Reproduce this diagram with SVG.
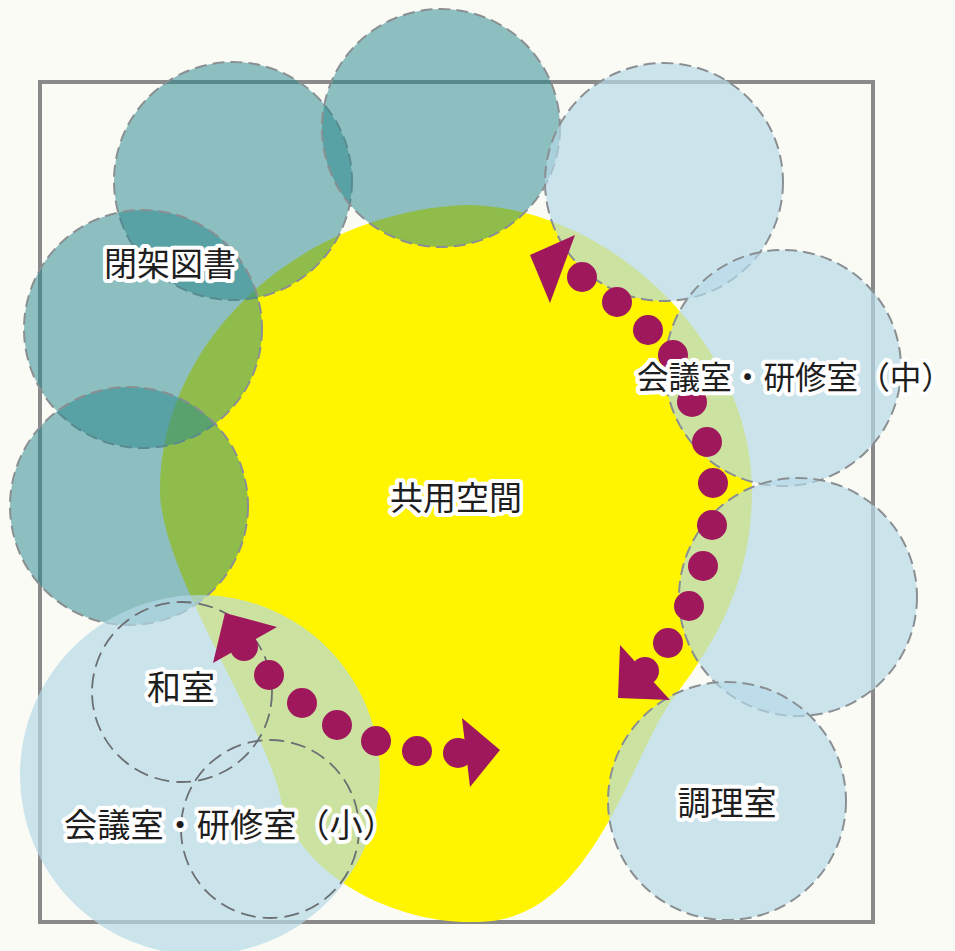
<svg xmlns="http://www.w3.org/2000/svg" width="955" height="951" viewBox="0 0 955 951">
<defs>
<style>
.teal{fill:rgb(40,137,142);fill-opacity:0.52;stroke:#8a8f92;stroke-width:2;stroke-dasharray:12 6}
.blue{fill:rgb(181,217,232);fill-opacity:0.69;stroke:#8a8f92;stroke-width:2;stroke-dasharray:12 6}
.room{fill:none;stroke:#6b6f72;stroke-width:1.8;stroke-dasharray:15 7}
.lbl{font-family:"Noto Sans CJK JP","Noto Sans CJK SC",sans-serif;fill:#1e1e1e;stroke:#ffffff;stroke-width:8;stroke-linejoin:round;paint-order:stroke;text-anchor:middle}
.arw{fill:#a0185c}
</style>
</defs>
<rect x="0" y="0" width="955" height="951" fill="#fbfbf6"/>
<rect x="40" y="82" width="833" height="840" fill="none" stroke="#8a8a8a" stroke-width="4"/>
<g id="common-space">
<path d="M465,205 C605,205 752,340 752,490 C752,590 708,652 672,700 C630,758 592,922 478,922 C390,925 292,870 280,795 C260,715 160,570 160,490 C160,340 300,212 465,205 Z" fill="#fff500"/>
</g>
<g id="node-teal-a"><circle class="teal" cx="233" cy="181" r="119"/></g>
<g id="node-teal-b"><circle class="teal" cx="441" cy="128" r="119"/></g>
<g id="node-closed-stacks"><circle class="teal" cx="143" cy="329" r="119"/></g>
<g id="node-teal-d"><circle class="teal" cx="129" cy="506" r="119"/></g>
<g id="node-blue-e"><circle class="blue" cx="664" cy="182" r="119"/></g>
<g id="node-meeting-mid"><circle class="blue" cx="783" cy="368" r="118"/></g>
<g id="node-blue-g"><circle class="blue" cx="798" cy="597" r="119"/></g>
<g id="node-cooking"><circle class="blue" cx="727" cy="801" r="119"/></g>
<g id="zone-bottom-left"><circle cx="200" cy="775" r="180" fill="rgb(181,217,232)" fill-opacity="0.69"/></g>
<g id="node-washitsu"><circle class="room" cx="182" cy="692" r="90"/></g>
<g id="node-meeting-small"><circle class="room" cx="270" cy="829" r="89"/></g>
<g id="connectors">
<g id="flow-right">
<polygon class="arw" points="530,255 575,235 550,303"/>
<circle class="arw" cx="582" cy="277" r="15"/>
<circle class="arw" cx="617" cy="302" r="15"/>
<circle class="arw" cx="648" cy="330" r="15"/>
<circle class="arw" cx="673" cy="355" r="15"/>
<circle class="arw" cx="692" cy="402" r="15"/>
<circle class="arw" cx="707" cy="442" r="15"/>
<circle class="arw" cx="713" cy="483" r="15"/>
<circle class="arw" cx="712" cy="525" r="15"/>
<circle class="arw" cx="703" cy="566" r="15"/>
<circle class="arw" cx="689" cy="606" r="15"/>
<circle class="arw" cx="668" cy="643" r="15"/>
<polygon class="arw" points="620,645 618,698 670,700"/>
<circle class="arw" cx="645" cy="671" r="14"/>
</g>
<g id="flow-left">
<polygon class="arw" points="213,663 225,613 277,627"/>
<circle class="arw" cx="244" cy="647" r="14"/>
<circle class="arw" cx="269" cy="675" r="15"/>
<circle class="arw" cx="302" cy="703" r="15"/>
<circle class="arw" cx="337" cy="725" r="15"/>
<circle class="arw" cx="376" cy="741" r="15"/>
<circle class="arw" cx="417" cy="751" r="15"/>
<circle class="arw" cx="458" cy="753" r="15"/>
<polygon class="arw" points="462,718 500,750 470,787"/>
</g>
</g>
<g id="labels">
<text class="lbl" x="170" y="276" font-size="33">閉架図書</text>
<text class="lbl" x="795" y="389" font-size="31.6">会議室・研修室（中）</text>
<text class="lbl" x="456" y="510" font-size="33">共用空間</text>
<text class="lbl" x="181" y="700" font-size="34">和室</text>
<text class="lbl" x="230" y="837" font-size="33.2">会議室・研修室（小）</text>
<text class="lbl" x="727" y="815" font-size="33">調理室</text>
</g>
</svg>
